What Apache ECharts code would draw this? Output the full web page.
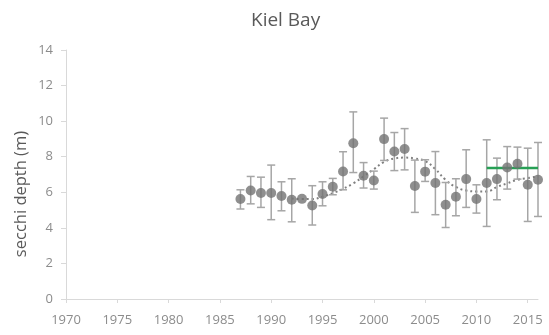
<!DOCTYPE html>
<html>
<head>
<meta charset="utf-8">
<script src="https://cdn.jsdelivr.net/npm/echarts@6/dist/echarts.min.js"></script>
<style>
  html, body { margin: 0; padding: 0; background: #fff; }
  #chart { width: 549px; height: 335px; }
</style>
</head>
<body>
<div id="chart"></div>
<script>
// Annual mean Secchi depth in Kiel Bay with error ranges
const years = [1987, 1988, 1989, 1990, 1991, 1992, 1993, 1994, 1995, 1996, 1997, 1998, 1999, 2000,
               2001, 2002, 2003, 2004, 2005, 2006, 2007, 2008, 2009, 2010, 2011, 2012, 2013, 2014, 2015, 2016];
const meanDepth = [5.62, 6.10, 5.96, 5.96, 5.79, 5.58, 5.63, 5.26, 5.90, 6.31, 7.17, 8.76, 6.93, 6.66,
                   8.99, 8.29, 8.43, 6.35, 7.16, 6.52, 5.30, 5.75, 6.74, 5.62, 6.52, 6.74, 7.39, 7.60, 6.42, 6.70];
const upperDepth = [6.14, 6.89, 6.85, 7.53, 6.59, 6.76, 5.63, 6.37, 6.59, 6.78, 8.28, 10.52, 7.67, 7.19,
                    10.17, 9.36, 9.58, 7.81, 7.83, 8.29, 6.55, 6.76, 8.39, 6.42, 8.95, 7.92, 8.57, 8.54, 8.48, 8.80];
const lowerDepth = [5.06, 5.35, 5.15, 4.46, 4.96, 4.34, 5.63, 4.16, 5.24, 5.86, 6.14, 7.11, 6.24, 6.18,
                    7.79, 7.22, 7.26, 4.87, 6.61, 4.74, 4.02, 4.68, 5.15, 4.83, 4.08, 5.58, 6.18, 6.74, 4.36, 4.64];

// Smoothed trend (dotted)
const trendYears = [1992, 1993, 1994, 1995, 1996, 1997, 1998, 1999, 2000, 2001, 2002, 2003, 2004,
                    2005, 2006, 2007, 2008, 2009, 2010, 2011, 2012, 2013, 2014, 2015, 2016];
const trendDepth = [5.65, 5.62, 5.62, 5.75, 5.95, 6.20, 6.50, 6.90, 7.30, 7.70, 7.90, 7.95, 7.90,
                    7.75, 7.30, 6.70, 6.30, 6.10, 6.05, 6.05, 6.30, 6.50, 6.70, 6.80, 6.90];

// Recent-period average (green)
const recentYears = [2011, 2016];
const recentMean = 7.36;

const xTickValues = [1970, 1975, 1980, 1985, 1990, 1995, 2000, 2005, 2010, 2015];

const FONT = 'Open Sans';
const chart = echarts.init(document.getElementById('chart'));

const errorData = years.map((y, i) => [y, lowerDepth[i], upperDepth[i]]);

chart.setOption({
  animation: false,
  backgroundColor: '#ffffff',
  title: {
    text: 'Kiel Bay',
    left: 246,
    top: 6,
    textStyle: { fontFamily: FONT, fontSize: 19, fontWeight: 'normal', color: '#595959' }
  },
  graphic: [{
    type: 'text',
    x: 21,
    y: 194,
    rotation: Math.PI / 2,
    style: {
      text: 'secchi depth (m)',
      fontFamily: FONT,
      fontSize: 16.5,
      fill: '#595959',
      textAlign: 'center',
      textVerticalAlign: 'middle'
    }
  }],
  grid: { left: 66, right: 11, top: 50, bottom: 36, containLabel: false },
  xAxis: {
    type: 'value',
    min: 1970,
    max: 2016,
    interval: 5,
    splitLine: { show: false },
    axisLine: { show: true, lineStyle: { color: '#d9d9d9', width: 1 } },
    axisTick: { show: true, length: 4, customValues: xTickValues, lineStyle: { color: '#d9d9d9' } },
    axisLabel: {
      customValues: xTickValues,
      color: '#8c8c8c', fontFamily: FONT, fontSize: 13, margin: 15,
      formatter: v => String(v)
    }
  },
  yAxis: {
    type: 'value',
    min: 0,
    max: 14,
    interval: 2,
    splitLine: { show: false },
    axisLine: { show: true, lineStyle: { color: '#d9d9d9', width: 1 } },
    axisTick: { show: true, length: 5, lineStyle: { color: '#d9d9d9' } },
    axisLabel: { color: '#8c8c8c', fontFamily: FONT, fontSize: 13, margin: 13 }
  },
  series: [
    {
      type: 'line',
      data: trendYears.map((y, i) => [y, trendDepth[i]]),
      smooth: true,
      symbol: 'none',
      lineStyle: { color: '#7f7f7f', width: 2, type: [2, 3] },
      z: 2
    },
    {
      type: 'custom',
      data: errorData,
      renderItem: function (params, api) {
        const x = api.value(0);
        const lo = api.coord([x, api.value(1)]);
        const hi = api.coord([x, api.value(2)]);
        const cap = 4;
        const style = { stroke: '#a6a6a6', lineWidth: 1.5 };
        if (Math.abs(lo[1] - hi[1]) < 0.5) return { type: 'group', children: [] };
        return {
          type: 'group',
          children: [
            { type: 'line', shape: { x1: lo[0], y1: lo[1], x2: hi[0], y2: hi[1] }, style },
            { type: 'line', shape: { x1: hi[0] - cap, y1: hi[1], x2: hi[0] + cap, y2: hi[1] }, style },
            { type: 'line', shape: { x1: lo[0] - cap, y1: lo[1], x2: lo[0] + cap, y2: lo[1] }, style }
          ]
        };
      },
      z: 3
    },
    {
      type: 'line',
      data: recentYears.map(y => [y, recentMean]),
      symbol: 'none',
      lineStyle: { color: '#27a055', width: 2.5 },
      z: 4
    },
    {
      type: 'scatter',
      data: years.map((y, i) => [y, meanDepth[i]]),
      symbol: 'circle',
      symbolSize: 10,
      itemStyle: { color: '#737373' },
      z: 5
    }
  ]
});
</script>
</body>
</html>
